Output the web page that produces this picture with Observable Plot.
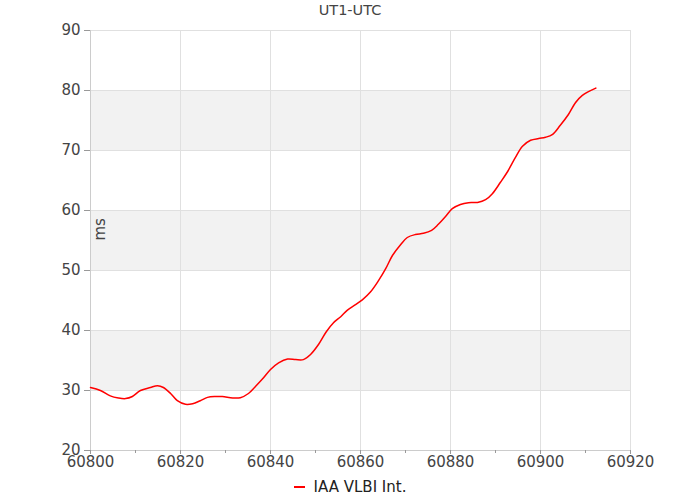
<!DOCTYPE html>
<html>
<head>
<meta charset="utf-8">
<script src="https://cdn.jsdelivr.net/npm/d3@7"></script>
<script src="https://cdn.jsdelivr.net/npm/@observablehq/plot@0.6"></script>
<style>
  body { margin: 0; background: #fff; font-family: "DejaVu Sans", Verdana, sans-serif; }
  #wrap { position: relative; width: 700px; height: 500px; }
  #title { position: absolute; top: 0px; left: 0; width: 700px; text-align: center; font-size: 14.5px; color: #444; line-height: 20px; }
  #legend { position: absolute; top: 477px; left: 0; width: 700px; text-align: center; font-size: 15px; color: #222; line-height: 20px; }
  #legend .sw { display: inline-block; width: 11px; height: 2px; background: #ff0000; vertical-align: middle; margin-right: 9px; position: relative; top: -1px; }
</style>
</head>
<body>
<div id="wrap">
  <div id="chart"></div>
  <div id="title">UT1-UTC</div>
  <div id="legend"><span class="sw"></span>IAA VLBI Int.</div>
</div>
<script>
const titleText = "UT1-UTC";
const seriesName = "IAA VLBI Int.";
const yLabel = "ms";

const mjd = [60800, 60802.2, 60804.4, 60806.2, 60807.8, 60809.3, 60811.1, 60813.3, 60814.9, 60816.2,
  60817.8, 60819.3, 60821.1, 60822.7, 60824.4, 60826, 60827.8, 60829.3, 60831.6, 60833.3,
  60835.1, 60836.7, 60838.2, 60840, 60841.8, 60843.8, 60845.6, 60847.3, 60848.9, 60850.7,
  60852.4, 60854, 60855.6, 60857.1, 60858.9, 60860.4, 60862.2, 60864, 60865.6, 60867.1,
  60868.9, 60870.4, 60872.2, 60874, 60875.8, 60877.3, 60878.9, 60880.4, 60882.2, 60884,
  60886, 60887.8, 60889.3, 60891.1, 60892.7, 60894.4, 60896, 60897.8, 60899.6, 60901.1,
  60902.7, 60904.4, 60906.2, 60907.8, 60909.3, 60912.3];
const ut1utc = [30.5, 30.0, 29.1, 28.75, 28.65, 29.0, 30.0, 30.5, 30.8, 30.5,
  29.5, 28.3, 27.7, 27.8, 28.3, 28.85, 29.0, 29.0, 28.75, 28.8,
  29.5, 30.7, 31.9, 33.5, 34.6, 35.25, 35.15, 35.15, 36.0, 37.7,
  39.8, 41.3, 42.3, 43.4, 44.3, 45.1, 46.4, 48.3, 50.3, 52.5,
  54.3, 55.5, 56.0, 56.2, 56.7, 57.7, 59.0, 60.3, 61.0, 61.3,
  61.35, 61.8, 62.8, 64.7, 66.5, 68.8, 70.7, 71.7, 72.0, 72.2,
  72.7, 74.2, 76.0, 78.0, 79.2, 80.4];

const xDomain = [60800, 60920];
const yDomain = [20, 90];
const xTicks = [60800, 60810, 60820, 60830, 60840, 60850, 60860, 60870, 60880, 60890, 60900, 60910, 60920];
const xLabelTicks = [60800, 60820, 60840, 60860, 60880, 60900, 60920];
const yTicks = [20, 30, 40, 50, 60, 70, 80, 90];
const bandLo = [30, 50, 70];
const bandHi = [40, 60, 80];

const data = mjd.map((d, i) => ({mjd: d, v: ut1utc[i]}));
const bands = bandLo.map((lo, i) => ({lo, hi: bandHi[i], x1: xDomain[0], x2: xDomain[1]}));

const plot = Plot.plot({
  width: 700,
  height: 500,
  marginTop: 30,
  marginBottom: 50,
  marginLeft: 90,
  marginRight: 70,
  style: {fontFamily: "DejaVu Sans, Verdana, sans-serif", fontSize: "15px", color: "#444", background: "#fff"},
  x: {domain: xDomain, label: null},
  y: {domain: yDomain, label: null},
  marks: [
    Plot.rect(bands, {x1: "x1", x2: "x2", y1: "lo", y2: "hi", fill: "#f2f2f2"}),
    Plot.ruleY(yTicks, {stroke: "#e0e0e0", strokeWidth: 1}),
    Plot.ruleX(xLabelTicks, {stroke: "#e0e0e0", strokeWidth: 1}),
    Plot.ruleX([xDomain[0]], {stroke: "#cccccc"}),
    Plot.ruleY([yDomain[0]], {stroke: "#cccccc"}),
    Plot.axisY({ticks: yTicks, tickSize: 6, tickPadding: 4, stroke: "#999", fill: "#444", fontSize: 15, label: null}),
    Plot.axisX({ticks: xTicks, tickSize: 3, tickFormat: () => "", stroke: "#999", label: null}),
    Plot.axisX({ticks: xLabelTicks, tickSize: 4, tickPadding: 2, tickFormat: d => String(d), stroke: "#999", fill: "#444", fontSize: 15, label: null}),
    Plot.text([yLabel], {frameAnchor: "left", dx: 10, rotate: -90, fill: "#444", fontSize: 15}),
    Plot.line(data, {x: "mjd", y: "v", stroke: "#ff0000", strokeWidth: 1.5, curve: "catmull-rom"})
  ]
});
document.getElementById("chart").appendChild(plot);
</script>
</body>
</html>
